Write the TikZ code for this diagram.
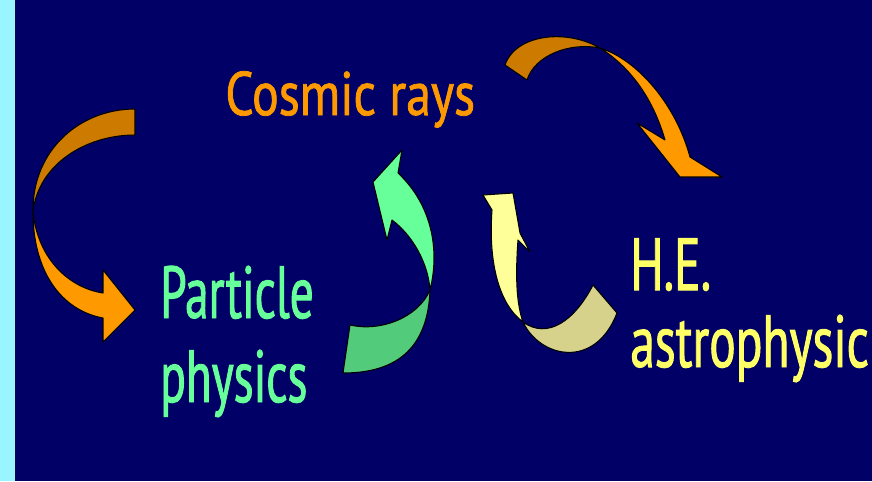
\documentclass[tikz,border=0pt]{standalone}
\usepackage{fontspec}
\newfontfamily\cosmicfont[FakeStretch=0.81, FakeBold=1.2]{PT Sans}
\newfontfamily\fieldfont[FakeStretch=0.64, FakeBold=1.2]{PT Sans}
\newfontfamily\astrofont[FakeStretch=0.67, FakeBold=1.2]{PT Sans}
\definecolor{slidenavy}{HTML}{000066}
\definecolor{slidecyan}{HTML}{99F5FF}
\definecolor{textorange}{HTML}{FF9900}
\definecolor{textgreen}{HTML}{66FF99}
\definecolor{textyellow}{HTML}{FFFF66}
\definecolor{orangedark}{HTML}{CC7A00}
\definecolor{orangelight}{HTML}{FF9900}
\definecolor{greendark}{HTML}{52CC7A}
\definecolor{greenlight}{HTML}{66FF99}
\definecolor{yellowdark}{HTML}{D6D28C}
\definecolor{yellowlight}{HTML}{FFFF99}
\begin{document}
\begin{tikzpicture}[x=0.02cm, y=-0.02cm,
    ribbon/.style={draw=black, line width=0.6pt, line join=round},
    bigtext/.style={inner sep=0pt, anchor=base west, align=left}]
    % slide background
    \useasboundingbox (0,0) rectangle (872,481);
    \fill[slidecyan] (0,0) rectangle (15,481);
    \fill[slidenavy] (15,0) rectangle (872,481);
    % the three fields (base = last line)
    \node[bigtext, text=textorange, font=\cosmicfont\fontsize{35}{40}\selectfont]
        (cosmic) at (225,115) {Cosmic rays};
    \node[bigtext, text=textgreen, font=\fieldfont\fontsize{42}{47.8}\selectfont]
        (particle) at (160,402) {Particle\\physics};
    \node[bigtext, text=textyellow, font=\astrofont\fontsize{42}{43.8}\selectfont]
        (astro) at (630,367) {H.E.\\astrophysic};
    % cosmic rays -> particle physics
    \filldraw[ribbon, fill=orangedark] (135,109) .. controls (80,109) and (32,150) .. (33,212)
        .. controls (38,165) and (85,135) .. (135,135) -- cycle;
    \filldraw[ribbon, fill=orangelight] (33,212) .. controls (33,270) and (60,310) .. (103,318)
        -- (103,342) -- (135,310) -- (103,270) -- (103,293)
        .. controls (70,288) and (38,260) .. (33,212) -- cycle;
    % cosmic rays -> astrophysics
    \filldraw[ribbon, fill=orangedark] (505,65) .. controls (515,35) and (565,28) .. (600,48)
        .. controls (570,42) and (535,55) .. (527,80) -- cycle;
    \filldraw[ribbon, fill=orangelight] (600,48) .. controls (638,60) and (676,105) .. (690,157)
        -- (722,177) -- (680,177) -- (637,123) -- (665,140)
        .. controls (655,105) and (635,70) .. (600,48) -- cycle;
    % particle physics -> cosmic rays
    \filldraw[ribbon, fill=greendark] (350,325) .. controls (380,332) and (418,318) .. (430,290)
        .. controls (428,345) and (400,373) .. (343,373) -- cycle;
    \filldraw[ribbon, fill=greenlight] (430,290) .. controls (440,250) and (432,205) .. (398,173)
        -- (402,150) -- (373,182) -- (387,240) -- (392,220)
        .. controls (412,235) and (428,262) .. (430,290) -- cycle;
    % astrophysics -> cosmic rays
    \filldraw[ribbon, fill=yellowdark] (523,322) .. controls (540,358) and (595,370) .. (617,313)
        -- (593,285) .. controls (575,320) and (548,340) .. (523,322) -- cycle;
    \filldraw[ribbon, fill=yellowlight] (483,195) -- (513,193) -- (520,233) -- (530,252) -- (518,240)
        .. controls (515,280) and (517,305) .. (523,322)
        .. controls (500,305) and (488,265) .. (492,210) -- cycle;
\end{tikzpicture}
\end{document}
